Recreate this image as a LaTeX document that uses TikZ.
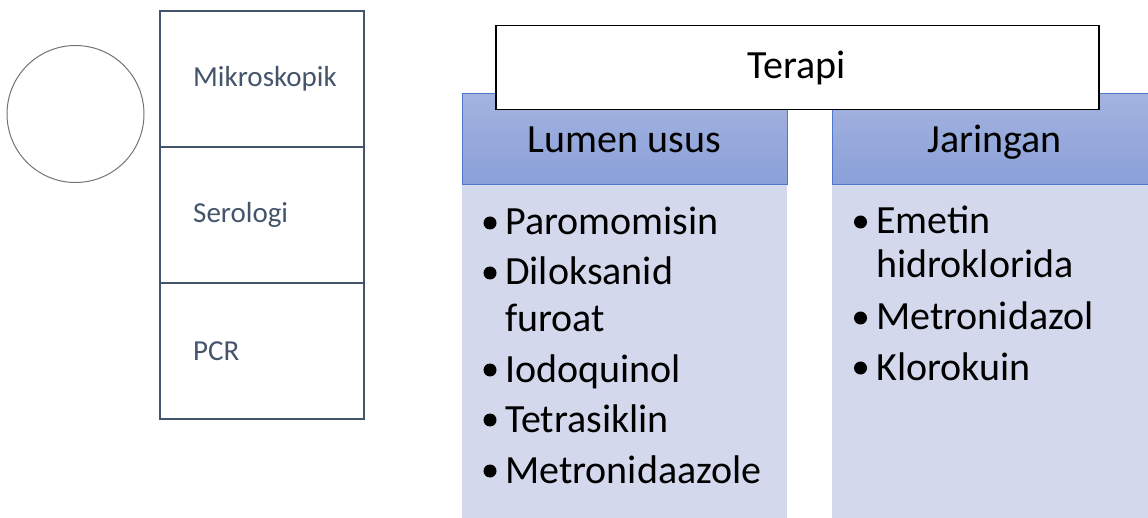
\documentclass[tikz,border=0pt]{standalone}
\usepackage{fontspec}
\setmainfont{Carlito}
\definecolor{slate}{HTML}{44546A}
\definecolor{hdrtop}{HTML}{A4B3DF}
\definecolor{hdrbot}{HTML}{8AA0D9}
\definecolor{hdrline}{HTML}{4F78CC}
\definecolor{bodyfill}{HTML}{D3D8EC}
\begin{document}
\begin{tikzpicture}[x=1pt,y=-1pt,
  cell/.style={draw=slate,line width=2pt,minimum width=204pt,minimum height=136pt,anchor=north west,inner sep=0pt},
  celltext/.style={anchor=base west,inner sep=0pt,text=slate,font=\fontsize{29}{34}\selectfont},
  hdr/.style={draw=hdrline,line width=0.8pt,top color=hdrtop,bottom color=hdrbot,minimum width=325pt,minimum height=91pt,anchor=north west,inner sep=0pt},
  body/.style={fill=bodyfill,minimum width=325pt,minimum height=340pt,anchor=north west,inner sep=0pt},
  bigtext/.style={anchor=base,inner sep=0pt,font=\fontsize{40}{48}\selectfont},
  itemtext/.style={anchor=base west,inner sep=0pt,font=\fontsize{40}{48}\selectfont},
  bul/.style={circle,fill=black,minimum size=13pt,inner sep=0pt}
]
\useasboundingbox (0,0) rectangle (1148,518);
% circle
\node[circle,draw=black!55,line width=1pt,minimum size=137pt,inner sep=0pt] (circ) at (75.5,114) {};
% left stack
\node[cell] (c1) at (159,10) {};
\node[cell] (c2) at (159,146) {};
\node[cell] (c3) at (159,282) {};
\node[celltext] (t1) at (193,87) {Mikroskopik};
\node[celltext] (t2) at (193,223) {Serologi};
\node[celltext] (t3) at (193,360) {PCR};
% panels
\node[body] (lbody) at (462,184) {};
\node[body] (rbody) at (832,184) {};
\node[hdr] (lhead) at (462,93) {};
\node[hdr] (rhead) at (832,93) {};
\node[bigtext] (lht) at (624.5,153) {Lumen usus};
\node[bigtext] (rht) at (994.5,153) {Jaringan};
% Terapi
\node[draw=black,fill=white,line width=1.5pt,minimum width=603pt,minimum height=84pt,anchor=north west,inner sep=0pt] (terapi) at (495,25) {};
\node[bigtext] (tt) at (796.5,79) {Terapi};
% left list
\node[bul] (lb1) at (490,223) {};
\node[itemtext] (l1) at (505,235) {Paromomisin};
\node[bul] (lb2) at (490,273) {};
\node[itemtext] (l2) at (505,285) {Diloksanid};
\node[itemtext] (l2b) at (505,332) {furoat};
\node[bul] (lb3) at (490,370) {};
\node[itemtext] (l3) at (505,382) {Iodoquinol};
\node[bul] (lb4) at (490,420) {};
\node[itemtext] (l4) at (505,432) {Tetrasiklin};
\node[bul] (lb5) at (490,471) {};
\node[itemtext] (l5) at (505,483) {Metronidaazole};
% right list
\node[bul] (rb1) at (860.5,222) {};
\node[itemtext] (r1) at (876,234) {Emetin};
\node[itemtext] (r1b) at (876,278) {hidroklorida};
\node[bul] (rb2) at (860.5,318) {};
\node[itemtext] (r2) at (876,330) {Metronidazol};
\node[bul] (rb3) at (860.5,368) {};
\node[itemtext] (r3) at (876,380) {Klorokuin};
\end{tikzpicture}
\end{document}
